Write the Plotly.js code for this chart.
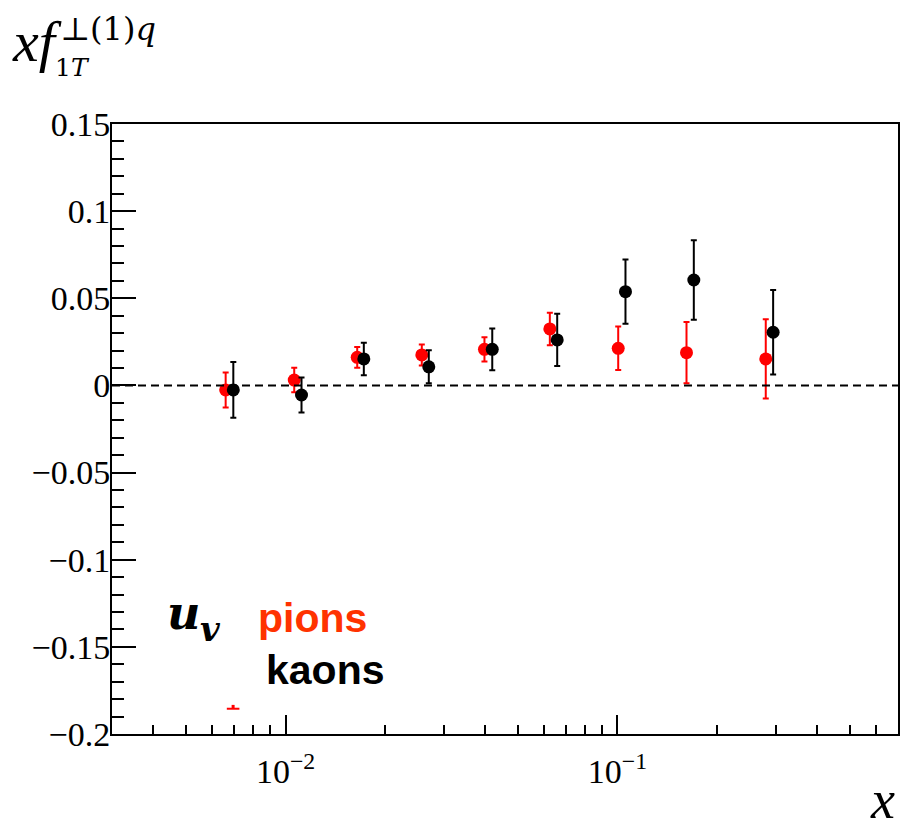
<!DOCTYPE html>
<html>
<head>
<meta charset="utf-8">
<script src="https://cdn.plot.ly/plotly-3.0.1.min.js"></script>
<style>
  html, body { margin: 0; padding: 0; background: #fff; }
  #chart { width: 900px; height: 832px; }
</style>
</head>
<body>
<div id="chart"></div>
<script>
// u-valence Sivers first moment, extracted from pion and kaon data
const pionX   = [0.0066, 0.01062, 0.01644, 0.02573, 0.03974, 0.06254, 0.1005, 0.1614, 0.2797];
const pionY   = [-0.0026, 0.0031, 0.0161, 0.0175, 0.0207, 0.0324, 0.0213, 0.0188, 0.0152];
const pionErr = [0.0100, 0.0070, 0.0060, 0.0060, 0.0069, 0.0093, 0.0125, 0.0176, 0.0227];

const kaonX   = [0.00696, 0.01117, 0.01721, 0.02701, 0.04195, 0.06582, 0.1057, 0.1698, 0.2944];
const kaonY   = [-0.0026, -0.0055, 0.0152, 0.0107, 0.0207, 0.0261, 0.0538, 0.0605, 0.0305];
const kaonErr = [0.0160, 0.0100, 0.0093, 0.0095, 0.0120, 0.0150, 0.0184, 0.0228, 0.0243];

// lone pion error-bar fragment near the bottom edge
const strayX   = [0.00695];
const strayY   = [-0.1855];
const strayErr = [0.0022];

const xMajorVals  = [0.01, 0.1];
const xMajorText  = ['10<sup>\u22122</sup>', '10<sup>\u22121</sup>'];
const xMinorVals  = [0.004, 0.005, 0.006, 0.007, 0.008, 0.009,
                     0.02, 0.03, 0.04, 0.05, 0.06, 0.07, 0.08, 0.09,
                     0.2, 0.3, 0.4, 0.5, 0.6];

const RED = '#ff0000';
const BLACK = '#000000';
const TICK_SERIF = '"Liberation Serif"';
const SERIF = 'Liberation Serif, Times New Roman, serif';
const MATH = 'DejaVu Serif, serif';
const SANS = 'Liberation Sans, Arial, sans-serif';

// plot-area geometry in pixels, used to place free text in paper units
const L = 112, R = 898, T = 124, B = 734;
const px = p => (p - L) / (R - L);
const py = p => (B - p) / (B - T);

const traces = [
  {
    x: pionX, y: pionY, type: 'scatter', mode: 'markers', name: 'pions',
    marker: { color: RED, size: 13 },
    error_y: { type: 'data', array: pionErr, visible: true, color: RED, thickness: 2, width: 3 }
  },
  {
    x: kaonX, y: kaonY, type: 'scatter', mode: 'markers', name: 'kaons',
    marker: { color: BLACK, size: 13 },
    error_y: { type: 'data', array: kaonErr, visible: true, color: BLACK, thickness: 2, width: 3 }
  },
  {
    x: strayX, y: strayY, type: 'scatter', mode: 'markers', name: 'stray',
    marker: { symbol: 'line-ew-open', size: 9, color: RED, line: { color: RED, width: 2 } },
    error_y: { type: 'data', symmetric: false, array: strayErr, arrayminus: [0],
               visible: true, color: RED, thickness: 3, width: 0 }
  }
];

const layout = {
  width: 900, height: 832,
  margin: { l: L, r: 900 - R, t: T, b: 832 - B },
  paper_bgcolor: '#fff', plot_bgcolor: '#fff',
  showlegend: false,
  xaxis: {
    type: 'log',
    range: [Math.log10(0.003), Math.log10(0.7)],
    tickvals: xMajorVals, ticktext: xMajorText,
    ticks: 'inside', ticklen: 19, tickwidth: 2, tickcolor: BLACK,
    minor: { tickvals: xMinorVals, ticks: 'inside', ticklen: 9, tickwidth: 2, tickcolor: BLACK, showgrid: false },
    showline: true, linecolor: BLACK, linewidth: 2, mirror: true,
    showgrid: false, zeroline: false,
    ticklabelstandoff: 6,
    tickfont: { family: TICK_SERIF, size: 34, color: BLACK }
  },
  yaxis: {
    range: [-0.2, 0.15],
    tick0: 0, dtick: 0.05,
    ticks: 'inside', ticklen: 24, tickwidth: 2, tickcolor: BLACK,
    minor: { dtick: 0.01, ticks: 'inside', ticklen: 12, tickwidth: 2, tickcolor: BLACK, showgrid: false },
    showline: true, linecolor: BLACK, linewidth: 2, mirror: true,
    showgrid: false, zeroline: false,
    ticklabelstandoff: -7,
    tickfont: { family: TICK_SERIF, size: 34, color: BLACK }
  },
  shapes: [
    { type: 'line', xref: 'paper', x0: 0, x1: 1, yref: 'y', y0: 0, y1: 0,
      line: { color: BLACK, width: 2, dash: '8px,5px' } }
  ],
  annotations: [
    // y-axis quantity
    { xref: 'paper', yref: 'paper', x: px(10), y: py(42), xanchor: 'left', yanchor: 'middle',
      text: '<i>xf</i>', showarrow: false, font: { family: SERIF, size: 58, color: BLACK } },
    { xref: 'paper', yref: 'paper', x: px(53), y: py(67), xanchor: 'left', yanchor: 'middle',
      text: '1<i>T</i>', showarrow: false, font: { family: MATH, size: 25, color: BLACK } },
    { xref: 'paper', yref: 'paper', x: px(58), y: py(29), xanchor: 'left', yanchor: 'middle',
      text: '\u22A5(1)<i>q</i>', showarrow: false, font: { family: MATH, size: 32, color: BLACK } },
    // x-axis quantity
    { xref: 'paper', yref: 'paper', x: px(897), y: py(800), xanchor: 'right', yanchor: 'middle',
      text: '<i>x</i>', showarrow: false, font: { family: SERIF, size: 54, color: BLACK } },
    // flavour and hadron labels
    { xref: 'paper', yref: 'paper', x: px(165), y: py(613), xanchor: 'left', yanchor: 'middle',
      text: '<b><i>u</i></b>', showarrow: false, font: { family: MATH, size: 46, color: BLACK } },
    { xref: 'paper', yref: 'paper', x: px(198), y: py(629), xanchor: 'left', yanchor: 'middle',
      text: '<b><i>v</i></b>', showarrow: false, font: { family: MATH, size: 34, color: BLACK } },
    { xref: 'paper', yref: 'paper', x: px(256), y: py(618), xanchor: 'left', yanchor: 'middle',
      text: '<b>pions</b>', showarrow: false, font: { family: SANS, size: 41, color: '#ff3300' } },
    { xref: 'paper', yref: 'paper', x: px(264), y: py(670), xanchor: 'left', yanchor: 'middle',
      text: '<b>kaons</b>', showarrow: false, font: { family: SANS, size: 41, color: BLACK } }
  ]
};

Plotly.newPlot('chart', traces, layout, { displayModeBar: false, staticPlot: true });
</script>
</body>
</html>
